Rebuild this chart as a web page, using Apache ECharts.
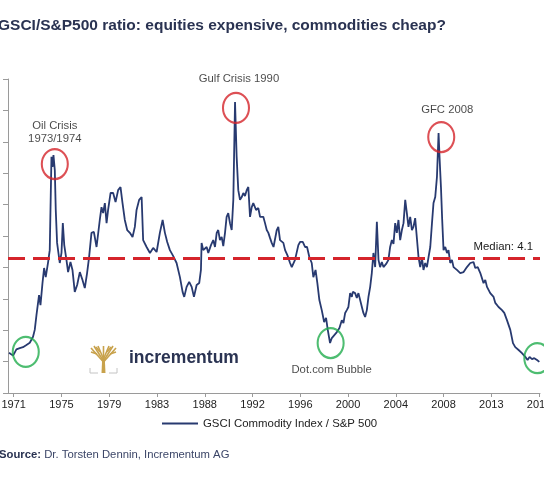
<!DOCTYPE html>
<html><head><meta charset="utf-8">
<script src="https://cdn.jsdelivr.net/npm/echarts@6/dist/echarts.min.js"></script>
<style>html,body{margin:0;padding:0;background:#fff;}#c{width:544px;height:479px;}</style>
</head><body><div id="c"></div>
<script>
// months counted from the first tick (1971)
const months = [-4.9,-0.7,2.8,6.3,9.7,13.3,16.8,20.2,22.0,23.8,26.5,28.0,30.1,31.8,33.5,36.0,37.7,39.5,40.6,41.6,43.0,44.0,45.4,48.2,50.0,51.4,52.9,55.2,56.9,59.4,61.5,63.9,66.4,69.2,72.0,74.4,76.8,78.9,81.4,83.9,86.7,90.1,91.9,93.6,95.4,97.2,98.8,101.4,104.1,106.6,109.3,111.8,113.9,116.3,118.8,121.6,124.4,126.8,128.6,131.3,133.9,135.5,139.1,142.6,146.0,149.6,153.0,155.9,158.3,160.7,163.5,167.0,170.5,174.0,176.8,178.5,181.0,183.7,186.3,188.7,191.5,194.2,196.0,196.7,198.4,202.0,203.7,206.5,208.9,210.7,212.5,214.1,215.9,217.7,219.4,221.2,222.9,224.6,226.4,228.2,229.9,231.7,233.4,235.1,236.9,238.7,240.4,242.1,243.9,245.6,247.4,249.2,250.8,253.7,256.1,257.9,261.3,263.1,264.9,266.6,268.3,270.1,272.0,275.4,277.0,278.8,282.3,284.1,286.5,289.3,291.1,292.8,294.5,298.0,299.8,302.6,305.0,307.1,309.5,312.0,313.7,316.0,317.9,320.0,322.5,325.0,327.0,328.8,331.2,333.0,334.7,338.3,341.0,343.5,345.2,347.0,348.7,350.4,352.2,354.0,355.0,357.4,359.2,360.9,364.5,366.1,367.9,369.7,371.4,373.2,374.9,376.6,378.4,380.2,381.9,383.6,385.4,387.1,389.9,392.3,394.1,395.9,397.6,399.4,401.1,402.8,404.6,406.4,408.1,409.9,411.6,413.3,415.1,416.9,418.5,420.3,422.1,423.8,425.6,427.4,429.0,430.8,432.6,434.3,436.1,437.9,439.5,441.3,443.1,444.8,445.8,447.3,448.6,450.0,451.8,453.6,455.2,457.0,458.8,460.5,464.0,467.5,471.0,474.5,478.0,481.4,483.2,485.8,488.5,491.9,493.7,495.5,498.9,502.4,504.2,507.6,511.2,513.6,516.4,519.9,522.7,525.1,528.6,532.1,535.6,538.0,540.1,542.6,545.0,547.9,550.3];
const ratio = [1.28,1.19,1.39,1.43,1.46,1.53,1.60,1.79,2.01,2.48,3.12,2.80,3.50,3.98,3.69,4.17,4.55,7.52,7.20,7.58,7.10,5.83,4.78,4.14,4.46,5.41,4.71,4.24,3.85,4.17,3.92,3.22,3.44,3.85,3.60,3.34,3.82,4.33,5.10,5.13,4.65,5.51,5.92,5.73,6.05,5.41,5.83,6.37,6.37,6.08,6.46,6.56,6.05,5.51,5.19,5.10,4.97,5.29,5.83,6.15,6.24,4.87,4.65,4.46,4.62,4.49,5.10,5.51,5.10,4.81,4.55,4.36,4.14,3.69,3.22,3.06,3.38,3.54,3.38,3.06,3.44,3.50,3.92,4.78,4.55,4.65,4.46,4.71,4.87,4.65,5.10,5.19,4.87,4.97,4.68,5.10,5.61,5.73,5.41,5.19,6.15,9.27,7.52,6.46,6.15,6.24,6.37,6.27,6.46,6.56,5.61,5.92,6.05,5.83,5.89,5.61,5.61,5.41,5.19,5.10,4.94,4.78,4.65,5.19,5.29,4.87,4.78,4.55,4.39,4.14,4.01,4.04,4.24,4.71,4.81,4.81,4.65,4.65,4.33,4.14,3.69,3.92,3.50,2.96,2.64,2.26,2.39,2.01,1.59,1.75,1.78,1.94,2.07,2.32,2.23,2.55,2.64,2.74,3.18,3.06,3.22,3.18,3.03,3.18,2.74,2.55,2.42,2.64,3.06,3.38,3.82,4.46,4.01,5.45,4.24,4.01,4.17,4.01,4.11,4.24,4.65,4.87,4.75,5.41,5.10,5.51,4.87,5.19,5.41,6.15,5.73,5.29,5.61,5.19,5.29,5.57,5.51,4.33,4.01,4.30,3.92,4.14,4.01,4.33,4.65,5.41,6.05,6.24,6.88,8.28,7.52,6.56,5.51,4.55,4.65,4.46,4.55,4.14,4.24,4.01,3.92,3.82,3.85,4.01,4.14,4.17,3.98,4.01,3.82,3.50,3.60,3.38,3.18,3.06,2.87,2.74,2.64,2.55,2.32,2.01,1.59,1.46,1.37,1.27,1.15,1.05,1.15,1.08,1.11,1.05,0.99];
const tickMonths = [0,50,100,150,200,250,300,350,400,450,500,550];
const tickLabels = ['1971','1975','1979','1983','1988','1992','1996','2000','2004','2008','2013','2017'];
const seriesName = 'GSCI Commodity Index / S&P 500';
const medianLevel = 4.3;
const medianText = 'Median: 4.1';
const crisisNames = ['Oil Crisis\n1973/1974','Gulf Crisis 1990','GFC 2008'];
const crisisMonths = [43.0, 232.7, 447.6];
const crisisRatio = [7.29, 9.08, 8.15];
const lowNames = ['', 'Dot.com Bubble', ''];
const lowMonths = [12.6, 331.8, 548.2];
const lowRatio = [1.31, 1.59, 1.11];

const FONT = '"Liberation Sans", Arial, sans-serif';
const NAVY = '#283a70';
const RED = '#d5242b';
const GREEN = '#22ad4d';
const GOLD = '#c8a24c';

const chart = echarts.init(document.getElementById('c'), null, {renderer: 'canvas'});

const crisisLabelCfg = [
  {distance: 3, offset: [0, 0]},
  {distance: 6, offset: [3, 0]},
  {distance: 5, offset: [6, 0]}
];

const lineData = months.map((m, i) => [m, ratio[i]]);
const crisisData = crisisMonths.map((m, i) => ({
  value: [m, crisisRatio[i]], name: crisisNames[i],
  label: {show: true, position: 'top', distance: crisisLabelCfg[i].distance, offset: crisisLabelCfg[i].offset,
    formatter: crisisNames[i], color: '#1a1a1a', fontSize: 11.3, lineHeight: 13, fontFamily: FONT, align: 'center'}
}));
const lowData = lowMonths.map((m, i) => ({
  value: [m, lowRatio[i]], name: lowNames[i],
  label: {show: lowNames[i] !== '', position: 'bottom', distance: 5, offset: [1, 0],
    formatter: lowNames[i], color: '#1a1a1a', fontSize: 11.3, fontFamily: FONT}
}));

const treeBranches = [
  [[13.5,16],[1,2]], [[13.5,15],[4,0]], [[13.5,13],[8,0]], [[13.5,12],[13.5,0]],
  [[13.5,13],[19,0]], [[13.5,15],[23,0]], [[13.5,16],[26,2]],
  [[7,8],[1,6]], [[20,8],[26,6]], [[10,6],[6,1]], [[17,6],[21,1]]
];

chart.setOption({
  animation: false,
  backgroundColor: '#ffffff',
  textStyle: {fontFamily: FONT},
  grid: {left: 8, right: 4, top: 79, bottom: 86, containLabel: false, outerBoundsMode: 'none'},
  legend: {
    show: true, left: 162, top: 418, padding: 0, itemWidth: 36, itemHeight: 2, itemGap: 10,
    data: [{name: seriesName, icon: 'rect'}],
    textStyle: {fontSize: 11.4, color: '#222', fontFamily: FONT}
  },
  xAxis: {
    type: 'value', min: -6, max: 551,
    splitLine: {show: false},
    axisLine: {show: true, onZero: false, lineStyle: {color: '#9a9a9a', width: 1}},
    axisTick: {show: true, customValues: tickMonths, length: 4, lineStyle: {color: '#9a9a9a'}},
    axisLabel: {show: true, customValues: tickMonths, margin: 6, fontSize: 11, color: '#222', fontFamily: FONT,
      hideOverlap: false, formatter: v => tickLabels[Math.round(v / 50)] || ''}
  },
  yAxis: {
    type: 'value', min: 0, max: 10, interval: 1,
    splitLine: {show: false},
    axisLine: {show: true, onZero: false, lineStyle: {color: '#9a9a9a', width: 1}},
    axisTick: {show: true, length: 5, lineStyle: {color: '#9a9a9a'}},
    axisLabel: {show: false}
  },
  series: [
    {
      name: seriesName, type: 'line', data: lineData, symbol: 'none', showSymbol: false,
      lineStyle: {color: NAVY, width: 1.8}, itemStyle: {color: NAVY}, z: 3,
      markLine: {
        silent: true, symbol: 'none',
        lineStyle: {color: RED, width: 3, type: [17, 8]},
        label: {show: true, position: 'insideEndTop', formatter: medianText, color: '#1a1a1a',
          fontSize: 11.4, fontFamily: FONT, distance: [7, 6]},
        data: [{yAxis: medianLevel}]
      }
    },
    {
      name: 'crises', type: 'scatter', data: crisisData, symbol: 'circle', symbolSize: [26, 30], clip: false,
      itemStyle: {color: 'rgba(0,0,0,0)', borderColor: RED, borderWidth: 2.2}, z: 5
    },
    {
      name: 'lows', type: 'scatter', data: lowData, symbol: 'circle', symbolSize: [26, 30], clip: false,
      itemStyle: {color: 'rgba(0,0,0,0)', borderColor: GREEN, borderWidth: 2.2}, z: 5
    }
  ],
  graphic: [
    {type: 'text', left: -2, top: 18, style: {text: 'GSCI/S&P500 ratio: equities expensive, commodities cheap?',
      fill: '#2a3352', font: 'bold 15.5px ' + FONT}},
    {type: 'text', left: -1, top: 449, style: {
      text: '{b|Source:} {r|Dr. Torsten Dennin, Incrementum AG}',
      rich: {b: {fontWeight: 'bold', fontSize: 11.3, fill: '#2a3352', fontFamily: FONT},
             r: {fontSize: 11.3, fill: '#3c4668', fontFamily: FONT}},
      font: '11.3px ' + FONT}},
    {type: 'group', x: 90, y: 346, children: [
      {type: 'polygon', shape: {points: [[11.5,27],[15.5,27],[14.8,12],[12.2,12]]}, style: {fill: GOLD}},
      ...treeBranches.map(b => ({type: 'line', shape: {x1: b[0][0], y1: b[0][1], x2: b[1][0], y2: b[1][1]},
        style: {stroke: GOLD, lineWidth: 1.6}})),
      {type: 'polyline', shape: {points: [[0,22],[0,27],[8,27]]}, style: {stroke: '#c4c4c4', lineWidth: 1, fill: null}},
      {type: 'polyline', shape: {points: [[19,27],[27,27],[27,22]]}, style: {stroke: '#c4c4c4', lineWidth: 1, fill: null}}
    ]},
    {type: 'text', left: 129, top: 349, style: {text: 'incrementum', fill: '#2a3352', font: 'bold 17.5px ' + FONT}}
  ]
});
</script>
</body></html>
